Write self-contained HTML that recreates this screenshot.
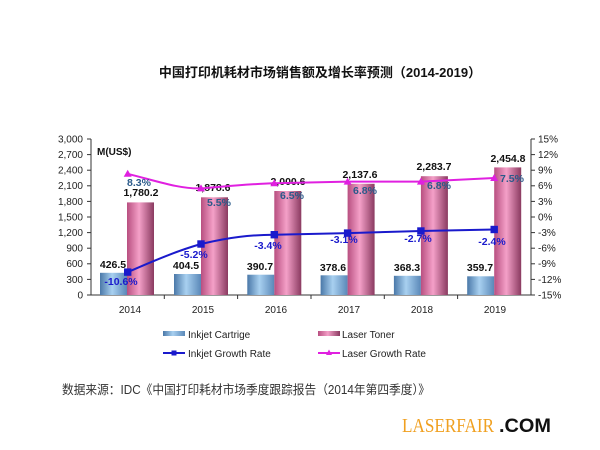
<!DOCTYPE html>
<html><head><meta charset="utf-8"><style>
body{margin:0;background:#fff;}
svg{display:block;font-family:"Liberation Sans","Noto Sans CJK SC",sans-serif;}
</style></head><body>
<svg width="600" height="450" viewBox="0 0 600 450" xmlns="http://www.w3.org/2000/svg">
<defs>
<linearGradient id="gb" x1="0" x2="1" y1="0" y2="0">
<stop offset="0" stop-color="#4a78a8"/><stop offset="0.45" stop-color="#a8d0f0"/><stop offset="1" stop-color="#5a88b8"/></linearGradient>
<linearGradient id="gp" x1="0" x2="1" y1="0" y2="0">
<stop offset="0" stop-color="#b84f80"/><stop offset="0.45" stop-color="#f4a0c8"/><stop offset="1" stop-color="#8a3a60"/></linearGradient>
</defs>
<text x="320" y="77" font-size="13" font-weight="bold" text-anchor="middle" fill="#111">中国打印机耗材市场销售额及增长率预测（2014-2019）</text>
<g stroke="#333" stroke-width="1">
<line x1="91" y1="139" x2="91" y2="295"/>
<line x1="531" y1="139" x2="531" y2="295"/>
<line x1="91" y1="295" x2="531" y2="295"/>
<line x1="87" y1="139" x2="91" y2="139"/><line x1="87" y1="154.6" x2="91" y2="154.6"/><line x1="87" y1="170.2" x2="91" y2="170.2"/><line x1="87" y1="185.8" x2="91" y2="185.8"/><line x1="87" y1="201.4" x2="91" y2="201.4"/><line x1="87" y1="217" x2="91" y2="217"/><line x1="87" y1="232.6" x2="91" y2="232.6"/><line x1="87" y1="248.2" x2="91" y2="248.2"/><line x1="87" y1="263.8" x2="91" y2="263.8"/><line x1="87" y1="279.4" x2="91" y2="279.4"/><line x1="87" y1="295" x2="91" y2="295"/>
<line x1="531" y1="139" x2="535" y2="139"/><line x1="531" y1="154.6" x2="535" y2="154.6"/><line x1="531" y1="170.2" x2="535" y2="170.2"/><line x1="531" y1="185.8" x2="535" y2="185.8"/><line x1="531" y1="201.4" x2="535" y2="201.4"/><line x1="531" y1="217" x2="535" y2="217"/><line x1="531" y1="232.6" x2="535" y2="232.6"/><line x1="531" y1="248.2" x2="535" y2="248.2"/><line x1="531" y1="263.8" x2="535" y2="263.8"/><line x1="531" y1="279.4" x2="535" y2="279.4"/><line x1="531" y1="295" x2="535" y2="295"/>
<line x1="164.3" y1="295" x2="164.3" y2="299"/><line x1="237.6" y1="295" x2="237.6" y2="299"/><line x1="311" y1="295" x2="311" y2="299"/><line x1="384.3" y1="295" x2="384.3" y2="299"/><line x1="457.6" y1="295" x2="457.6" y2="299"/>
</g>
<g font-size="10" fill="#222" text-anchor="end">
<text x="83" y="142.5">3,000</text><text x="83" y="158">2,700</text><text x="83" y="173.5">2,400</text><text x="83" y="189">2,100</text><text x="83" y="205">1,800</text><text x="83" y="220.5">1,500</text><text x="83" y="236">1,200</text><text x="83" y="251.5">900</text><text x="83" y="267">600</text><text x="83" y="283">300</text><text x="83" y="298.5">0</text>
</g>
<g font-size="10" fill="#222">
<text x="538" y="142.5">15%</text><text x="538" y="158">12%</text><text x="538" y="173.5">9%</text><text x="538" y="189">6%</text><text x="538" y="205">3%</text><text x="538" y="220.5">0%</text><text x="538" y="236">-3%</text><text x="538" y="251.5">-6%</text><text x="538" y="267">-9%</text><text x="538" y="283">-12%</text><text x="538" y="298.5">-15%</text>
</g>
<text x="97" y="155" font-size="10" font-weight="bold" fill="#111">M(US$)</text>
<g font-size="10" fill="#222" text-anchor="middle">
<text x="130" y="313">2014</text><text x="203" y="313">2015</text><text x="276" y="313">2016</text><text x="349" y="313">2017</text><text x="422" y="313">2018</text><text x="495" y="313">2019</text>
</g>
<g fill="url(#gb)">
<rect x="100" y="272.8" width="27" height="22.2"/><rect x="174" y="274" width="27" height="21"/><rect x="247.3" y="274.7" width="27" height="20.3"/><rect x="320.6" y="275.3" width="27" height="19.7"/><rect x="393.9" y="275.8" width="27" height="19.2"/><rect x="467.2" y="276.3" width="27" height="18.7"/>
</g>
<g fill="url(#gp)">
<rect x="127" y="202.4" width="27" height="92.6"/><rect x="201" y="197.3" width="27" height="97.7"/><rect x="274.3" y="191" width="27" height="104"/><rect x="347.6" y="183.8" width="27" height="111.2"/><rect x="420.9" y="176.2" width="27" height="118.8"/><rect x="494.2" y="167.4" width="27" height="127.6"/>
</g>
<g font-size="10.5" font-weight="bold" fill="#111" text-anchor="middle">
<text x="113" y="268">426.5</text><text x="186" y="269">404.5</text><text x="260" y="270">390.7</text><text x="333" y="271">378.6</text><text x="407" y="271">368.3</text><text x="480" y="271">359.7</text>
<text x="141" y="196">1,780.2</text><text x="213" y="191">1,878.6</text><text x="288" y="185">2,000.6</text><text x="360" y="178">2,137.6</text><text x="434" y="170">2,283.7</text><text x="508" y="162">2,454.8</text>
</g>
<path d="M127.7,173.8 C160,182 180,189 201,188.4 C230,186 250,184 274.3,183.2 L347.6,181.6 L420.9,181.6 L494.2,178" fill="none" stroke="#e020e0" stroke-width="2"/>
<g fill="#e020e0">
<polygon points="127.7,169.8 131.7,176.8 123.7,176.8"/><polygon points="201,184.4 205,191.4 197,191.4"/><polygon points="274.3,179.2 278.3,186.2 270.3,186.2"/><polygon points="347.6,177.6 351.6,184.6 343.6,184.6"/><polygon points="420.9,177.6 424.9,184.6 416.9,184.6"/><polygon points="494.2,174 498.2,181 490.2,181"/>
</g>
<path d="M127.7,272.1 C160,258 180,250 201,244 C230,237 250,235 274.3,234.7 L347.6,233.1 L420.9,231 L494.2,229.5" fill="none" stroke="#1a1acc" stroke-width="2"/>
<g fill="#1a1acc">
<rect x="124" y="268.4" width="7.4" height="7.4"/><rect x="197.3" y="240.3" width="7.4" height="7.4"/><rect x="270.6" y="231" width="7.4" height="7.4"/><rect x="343.9" y="229.4" width="7.4" height="7.4"/><rect x="417.2" y="227.3" width="7.4" height="7.4"/><rect x="490.5" y="225.8" width="7.4" height="7.4"/>
</g>
<g font-size="10.5" font-weight="bold" text-anchor="middle">
<text x="139" y="186" fill="#2a5a8a">8.3%</text><text x="219" y="206" fill="#2a5a8a">5.5%</text><text x="292" y="199" fill="#2a5a8a">6.5%</text><text x="365" y="194" fill="#2a5a8a">6.8%</text><text x="439" y="189" fill="#2a5a8a">6.8%</text><text x="512" y="182" fill="#2a5a8a">7.5%</text>
<text x="121" y="285" fill="#1a1acc">-10.6%</text><text x="194" y="258" fill="#1a1acc">-5.2%</text><text x="268" y="249" fill="#1a1acc">-3.4%</text><text x="344" y="243" fill="#1a1acc">-3.1%</text><text x="418" y="242" fill="#1a1acc">-2.7%</text><text x="492" y="245" fill="#1a1acc">-2.4%</text>
</g>
<rect x="163" y="331" width="22" height="5" fill="url(#gb)"/>
<text x="188" y="338" font-size="10" fill="#222">Inkjet Cartrige</text>
<rect x="318" y="331" width="22" height="5" fill="url(#gp)"/>
<text x="342" y="338" font-size="10" fill="#222">Laser Toner</text>
<line x1="163" y1="353" x2="185" y2="353" stroke="#1a1acc" stroke-width="2"/><rect x="171.5" y="350.5" width="5" height="5" fill="#1a1acc"/>
<text x="188" y="357" font-size="10" fill="#222">Inkjet Growth Rate</text>
<line x1="318" y1="353" x2="340" y2="353" stroke="#e020e0" stroke-width="2"/><polygon points="329,349.5 332,355 326,355" fill="#e020e0"/>
<text x="342" y="357" font-size="10" fill="#222">Laser Growth Rate</text>
<text x="62" y="394" font-size="12.5" fill="#333" textLength="368" lengthAdjust="spacingAndGlyphs">数据来源：IDC《中国打印耗材市场季度跟踪报告（2014年第四季度）》</text>
<text x="402" y="432" font-size="20" fill="#f0a020" font-family="Liberation Serif,serif" textLength="92" lengthAdjust="spacingAndGlyphs">LASERFAIR</text>
<text x="499" y="432" font-size="19" font-weight="bold" fill="#111" textLength="52" lengthAdjust="spacingAndGlyphs">.COM</text>
</svg>
</body></html>
